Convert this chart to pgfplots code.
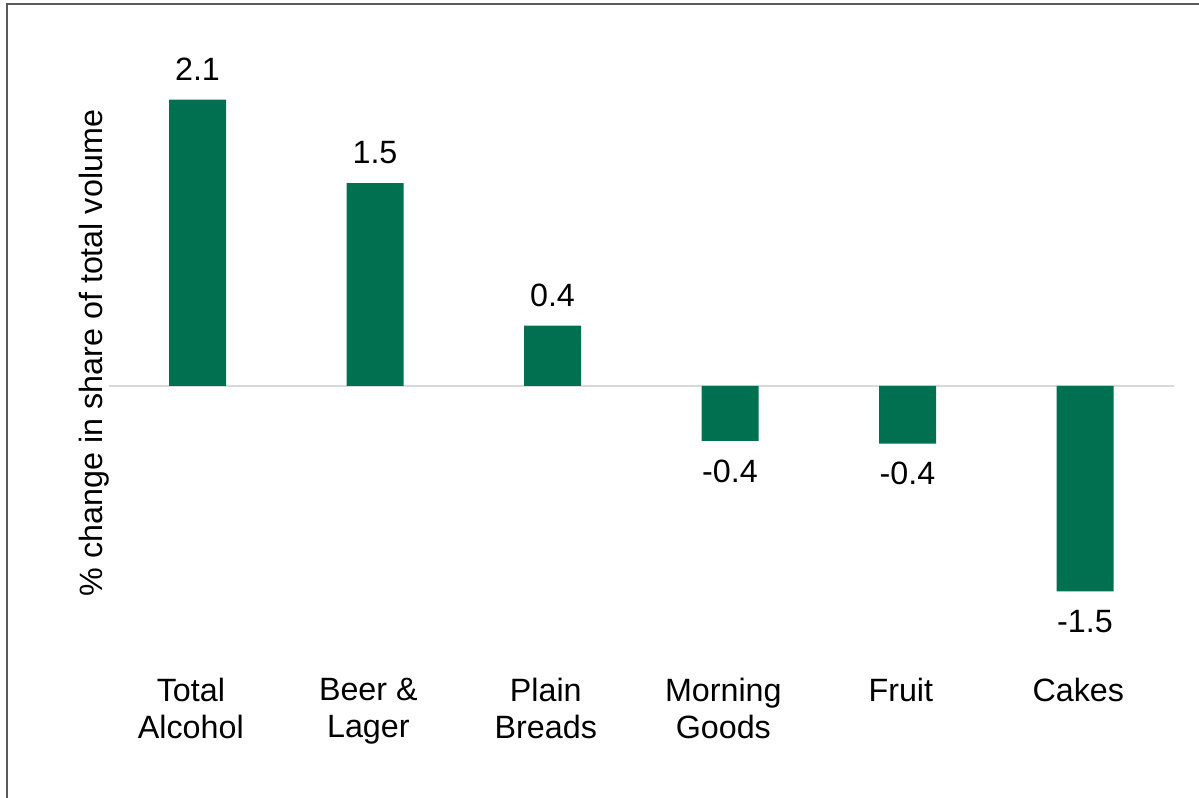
\documentclass[border=0pt]{standalone}
\usepackage{fontspec}
\setmainfont{Liberation Sans}
\usepackage{pgfplots}
\pgfplotsset{compat=1.18}
\definecolor{bargreen}{RGB}{0,112,81}
\definecolor{framegray}{RGB}{89,89,89}
\definecolor{zerogray}{RGB}{217,217,217}
\begin{document}
\begin{tikzpicture}
\path[use as bounding box] (0,0) rectangle (899.25pt,598.5pt);
\draw[framegray, line width=1.6pt] (5.25pt,-2pt) -- (5.25pt,595.5pt) -- (902pt,595.5pt);
\begin{axis}[
  at={(81.5625pt,103.5pt)}, anchor=south west,
  scale only axis, width=798.75pt, height=462.375pt,
  xmin=-0.5, xmax=5.5, ymin=-2, ymax=2.5,
  axis line style={draw=none},
  major tick length=0pt,
  xtick={0,1,2,3,4,5},
  xticklabels={{Total\\Alcohol},{Beer \&\\Lager},{Plain\\Breads},{Morning\\Goods},{Fruit},{Cakes}},
  xticklabel style={font=\fontsize{24.2}{27.5}\selectfont, align=center, anchor=north, inner sep=0pt, yshift=-13.5pt, xshift=-5pt},
  ytick=\empty,
  extra y ticks={0}, extra y tick labels={},
  extra y tick style={grid=major, major grid style={draw=zerogray, line width=1.5pt}},
  ylabel={\% change in share of total volume},
  ylabel style={font=\fontsize{24.2}{27.5}\selectfont, at={(axis description cs:-0.0138,0.498)}, anchor=center},
  ybar, bar width=42.75pt,
  point meta=explicit symbolic,
  nodes near coords,
  every node near coord/.append style={font=\fontsize{24.2}{27.5}\selectfont, text=black, inner xsep=0pt, inner ysep=14pt},
]
\addplot[fill=bargreen, draw=none, bar shift=0pt, nodes near coords style={anchor=south}]
  coordinates {(0,2.09) [2.1] (1,1.48) [1.5] (2,0.44) [0.4]};
\addplot[fill=bargreen, draw=none, bar shift=0pt, nodes near coords style={anchor=north}]
  coordinates {(3,-0.40) [-0.4] (4,-0.42) [-0.4] (5,-1.50) [-1.5]};
\end{axis}
\end{tikzpicture}
\end{document}
